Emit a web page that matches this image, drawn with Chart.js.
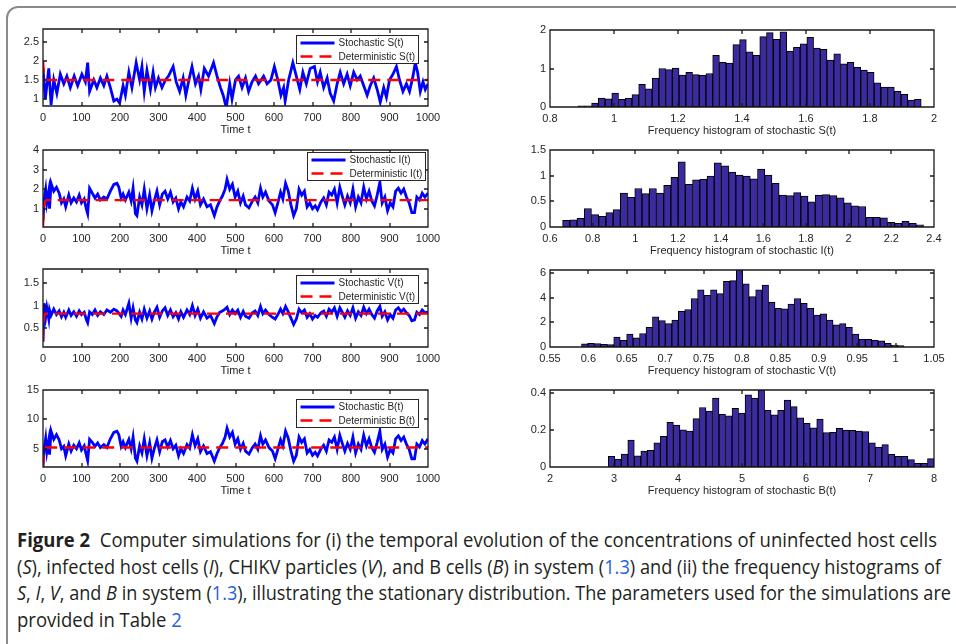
<!DOCTYPE html>
<html>
<head>
<meta charset="utf-8">
<script src="https://cdn.jsdelivr.net/npm/chart.js@4.4.0/dist/chart.umd.min.js"></script>
<style>
  html, body { margin: 0; padding: 0; background: #fff; }
  body { width: 956px; height: 644px; position: relative; overflow: hidden; }
  #frame { position: absolute; left: 6px; top: 6px; width: 1000px; height: 700px; box-sizing: border-box;
           border: 2px solid #8a8a8a; border-radius: 12px; }
  #caption { position: absolute; left: 17px; top: 527px; font-family: 'Open Sans', 'Noto Sans', sans-serif;
             font-size: 20px; line-height: 26.7px; color: #231f20; }
  #caption .ln { white-space: nowrap; width: max-content; transform-origin: 0 50%; }
  #caption a { color: #2a5fd8; text-decoration: none; }
  canvas { position: absolute; }
</style>
</head>
<body>
<div id="frame"></div>
<div id="caption">
  <div class="ln"><b>Figure 2</b>&nbsp; Computer simulations for (i) the temporal evolution of the concentrations of uninfected host cells</div>
  <div class="ln">(<i>S</i>), infected host cells (<i>I</i>), CHIKV particles (<i>V</i>), and B cells (<i>B</i>) in system (<a>1.3</a>) and (ii) the frequency histograms of</div>
  <div class="ln"><i>S</i>, <i>I</i>, <i>V</i>, and <i>B</i> in system (<a>1.3</a>), illustrating the stationary distribution. The parameters used for the simulations are</div>
  <div class="ln">provided in Table <a>2</a></div>
</div>
<script>
// ---- time series ----
var timeS = [0,6,15,21,28,36,45,54,62,71,81,90,101,110,116,121,132,140,149,158,
  166,175,184,192,199,208,214,223,231,242,251,257,263,270,279,286,292,300,309,318,
  326,338,346,355,364,371,379,387,396,404,410,419,430,443,452,461,468,476,485,491,
  500,508,517,526,534,543,552,560,573,582,592,601,610,618,625,629,638,649,658,667,
  675,684,694,705,713,720,729,738,746,755,764,772,781,790,798,807,816,824,833,842,
  850,859,868,876,885,892,900,909,918,926,935,944,952,961,967,973,980,987,993,1000];
var stochS = [1.8,1.0,1.8,0.85,1.5,1.15,1.65,1.4,1.6,1.3,1.6,1.35,1.65,1.45,1.95,1.2,1.5,1.3,1.55,1.35,
  1.6,1.3,0.95,1.0,0.9,1.35,1.1,1.7,1.3,1.95,1.5,1.85,1.2,1.75,1.25,1.7,1.3,1.55,1.3,1.5,
  1.6,1.85,1.45,1.2,1.55,1.1,1.5,1.85,1.4,1.6,1.25,1.8,1.6,1.95,1.6,1.3,1.1,0.78,1.4,1.0,
  1.5,1.6,1.3,1.55,1.2,1.45,1.6,1.4,1.6,1.4,1.5,1.85,1.5,1.1,1.3,0.95,1.5,1.95,1.6,1.25,
  1.7,1.4,1.8,1.85,1.45,1.7,1.3,1.55,1.15,0.95,1.4,1.7,1.4,1.65,1.35,1.7,1.5,1.6,1.35,1.1,
  1.35,1.55,1.25,0.92,1.3,1.05,1.5,1.65,1.85,1.5,1.2,1.4,1.2,1.6,1.95,1.7,1.2,1.45,1.25,1.4];

var timeIVB = [0,3,7,10,15,17,21,28,35,42,48,54,59,67,73,80,87,94,100,107,
  113,116,121,128,135,142,149,158,166,175,184,192,197,203,208,214,223,229,234,240,
  244,251,257,263,270,277,283,289,296,303,310,317,324,331,338,345,352,358,365,374,
  381,388,395,402,409,417,426,435,445,452,459,466,473,478,485,492,499,506,513,520,
  526,535,544,551,558,565,571,578,587,596,603,610,617,623,630,637,644,651,658,665,
  672,679,686,693,700,707,713,722,729,736,743,750,757,764,771,778,784,791,798,805,
  812,819,826,833,840,847,854,861,868,875,881,888,895,902,909,916,923,930,937,944,
  951,958,965,971,978,985,992,1000];
var stochI = [0.4,1.5,2.0,1.3,1.9,1.0,2.3,1.9,2.1,1.8,1.3,1.5,1.1,1.7,1.3,1.55,1.35,1.7,1.3,1.5,
  0.95,0.75,2.05,1.8,1.55,1.75,1.45,1.6,1.5,1.9,2.25,2.3,2.1,1.55,1.75,1.45,1.85,1.4,2.05,0.75,
  0.65,1.6,1.2,2.0,1.0,1.7,0.9,1.4,1.9,1.2,1.75,1.9,1.5,1.85,1.35,1.55,1.0,1.35,1.1,1.6,
  1.4,2.05,1.5,1.9,1.2,1.5,1.1,1.2,0.65,1.1,1.4,1.65,2.0,2.5,2.0,2.25,1.6,1.9,1.3,1.65,
  1.2,1.05,1.4,1.6,1.3,2.05,1.6,1.85,1.4,1.2,0.8,1.3,1.85,1.5,2.3,1.9,1.2,0.65,1.0,2.0,
  1.7,1.9,1.1,1.3,1.0,1.15,0.95,1.35,1.55,1.2,1.85,1.7,2.0,1.3,2.1,1.6,1.2,1.65,1.3,2.0,
  1.1,1.6,1.3,2.1,1.5,1.9,1.4,1.15,1.7,2.35,1.3,1.6,0.9,1.3,1.1,1.9,2.05,1.8,2.0,1.6,
  1.3,0.8,0.8,1.6,1.45,1.8,1.6,1.8];
var stochV = [0.2,1.05,0.75,0.95,0.7,0.9,0.78,0.92,0.8,0.88,0.75,0.85,0.74,0.9,0.78,0.86,0.76,0.88,0.8,0.85,
  0.68,0.62,0.86,0.8,0.9,0.78,0.86,0.8,0.9,0.85,0.92,0.88,0.83,0.76,0.9,0.8,1.05,0.72,0.95,0.68,
  0.62,0.85,0.7,0.92,0.72,0.88,0.7,0.85,0.96,0.74,0.88,0.95,0.78,0.9,0.75,0.84,0.7,0.86,0.74,0.9,
  0.8,1.0,0.78,0.92,0.72,0.86,0.72,0.78,0.6,0.75,0.85,0.88,0.92,0.96,0.8,0.9,0.82,0.9,0.74,0.87,
  0.76,0.72,0.84,0.88,0.78,0.98,0.82,0.9,0.8,0.74,0.7,0.8,0.92,0.82,0.98,0.86,0.72,0.58,0.7,0.92,
  0.84,0.9,0.74,0.82,0.7,0.78,0.74,0.84,0.88,0.76,0.92,0.85,0.95,0.76,0.95,0.84,0.74,0.88,0.78,0.95,
  0.72,0.86,0.78,0.96,0.82,0.92,0.8,0.72,0.88,0.98,0.76,0.86,0.68,0.8,0.72,0.9,0.95,0.86,0.92,0.84,
  0.78,0.66,0.68,0.85,0.8,0.9,0.84,0.86];
var stochB = [2.0,5.0,6.8,4.5,6.5,4.0,8.0,6.6,7.4,6.5,5.0,5.4,3.8,5.8,4.6,5.6,5.0,6.0,4.8,5.5,
  3.8,3.0,6.6,6.1,5.4,6.0,5.2,5.7,5.2,6.7,7.8,8.0,7.4,5.4,6.2,5.2,6.6,5.0,7.0,3.4,
  2.9,5.5,4.3,6.7,3.8,6.0,3.4,5.0,6.5,4.5,6.2,6.5,5.3,6.4,5.0,5.6,3.8,5.0,4.2,5.7,
  5.1,7.4,5.5,6.7,4.5,5.5,4.2,4.5,2.9,4.2,5.2,5.9,7.0,8.5,7.0,7.8,5.8,6.7,4.9,5.9,
  4.6,4.1,5.2,5.8,4.9,7.2,5.8,6.5,5.2,4.6,3.3,4.9,6.5,5.5,8.0,6.8,4.6,2.9,3.9,7.0,
  6.1,6.7,4.3,4.9,3.9,4.4,3.8,5.0,5.6,4.6,6.5,6.1,7.0,4.9,7.3,5.8,4.6,5.9,4.9,7.0,
  4.3,5.8,4.9,7.3,5.5,6.7,5.2,4.4,6.1,8.0,4.9,5.8,3.6,4.9,4.3,6.7,7.2,6.4,7.0,5.8,
  4.9,3.3,3.3,5.8,5.3,6.4,5.8,6.7];

// deterministic solutions
var timeDet = [0,1,2,3,4,6,10,1000];
var detS = [2.0,1.85,1.72,1.62,1.56,1.51,1.5,1.5];
var detI = [0.1,0.5,0.85,1.1,1.25,1.38,1.44,1.44];
var detV = [0.2,0.5,0.68,0.76,0.8,0.82,0.82,0.82];
var detB = [2.0,3.3,4.2,4.7,5.0,5.2,5.23,5.23];

// ---- histograms (bin range + bar heights) ----
var histSRange = [0.888, 1.96];
var histS = [0.03,0.03,0.1,0.23,0.21,0.36,0.2,0.23,0.32,0.59,0.47,0.75,1.0,0.97,1.01,0.83,0.9,0.84,0.82,0.87,
  1.34,1.16,1.14,1.62,1.75,1.43,1.34,1.83,1.93,1.76,1.95,1.45,1.55,1.64,1.81,1.53,1.5,1.22,1.38,1.12,
  1.16,1.03,0.96,0.9,0.63,0.52,0.52,0.41,0.33,0.18,0.2];
var histIRange = [0.659, 2.351];
var histI = [0.13,0.14,0.17,0.36,0.24,0.21,0.28,0.34,0.66,0.58,0.75,0.65,0.75,0.66,0.81,0.97,1.27,0.83,0.92,0.93,
  0.99,1.25,1.19,1.07,1.01,0.99,0.94,1.13,1.01,0.85,0.62,0.61,0.67,0.6,0.49,0.62,0.63,0.61,0.57,0.47,
  0.41,0.4,0.19,0.19,0.18,0.09,0.07,0.11,0.07,0.04];
var histVRange = [0.591, 1.011];
var histV = [0.25,0.3,0.28,0.22,0.2,0.8,0.55,1.05,0.75,1.1,1.6,2.45,2.15,1.9,2.2,2.9,3.05,3.95,4.65,4.2,
  4.65,4.35,5.35,5.4,6.3,5.15,4.1,4.65,5.05,3.65,3.15,3.1,3.5,3.95,3.55,3.15,2.6,2.7,2.2,1.8,
  1.9,1.6,1.05,0.65,0.62,0.55,0.5,0.3,0.15,0.12];
var histBRange = [2.91, 8.0];
var histB = [0.057,0.043,0.07,0.145,0.06,0.085,0.09,0.13,0.165,0.24,0.225,0.2,0.193,0.26,0.32,0.3,0.37,0.283,0.275,0.315,
  0.29,0.388,0.37,0.414,0.305,0.28,0.305,0.36,0.325,0.265,0.235,0.21,0.258,0.185,0.187,0.208,0.198,0.197,0.193,0.19,
  0.13,0.107,0.12,0.068,0.058,0.057,0.04,0.02,0.02,0.045];

// ---- tick labels ----
var timeTicks = [0,100,200,300,400,500,600,700,800,900,1000];
var yTicksS = [1,1.5,2,2.5];
var yTicksI = [1,2,3,4];
var yTicksV = [0.5,1,1.5];
var yTicksB = [5,10,15];
var hxTicksS = [0.8,1,1.2,1.4,1.6,1.8,2];
var hxTicksI = [0.6,0.8,1,1.2,1.4,1.6,1.8,2,2.2,2.4];
var hxTicksV = [0.55,0.6,0.65,0.7,0.75,0.8,0.85,0.9,0.95,1,1.05];
var hxTicksB = [2,3,4,5,6,7,8];
var hyTicksS = [0,1,2];
var hyTicksI = [0,0.5,1,1.5];
var hyTicksV = [0,2,4,6];
var hyTicksB = [0,0.2,0.4];

var FONT = "'Liberation Sans', Arial, Helvetica, sans-serif";
var INK = '#262626';
var PAD = 20, YW = 40, XH = 31;

Chart.defaults.font.family = FONT;
Chart.defaults.color = INK;

function makeCanvas(r) {
    var c = document.createElement('canvas');
    var w = r.w + YW + 2 * PAD, h = r.h + XH + 2 * PAD;
    c.width = w; c.height = h;
    c.style.left = (r.l - YW - PAD) + 'px';
    c.style.top = (r.t - PAD) + 'px';
    c.style.width = w + 'px';
    c.style.height = h + 'px';
    document.body.appendChild(c);
    return c;
}

// matlab style box with inward ticks, drawn on top of the bars and lines
var boxPlugin = {
    id: 'matBox',
    afterDatasetsDraw: function (chart) {
        var ctx = chart.ctx, a = chart.chartArea, sx = chart.scales.x, sy = chart.scales.y;
        var L = Math.round(a.left), R = Math.round(a.right);
        var T = Math.round(a.top), B = Math.round(a.bottom);
        var tl = 4;
        ctx.save();
        ctx.setLineDash([]);
        ctx.strokeStyle = '#1a1a1a';
        ctx.lineWidth = 1.3;
        ctx.beginPath();
        ctx.moveTo(L, T); ctx.lineTo(R, T); ctx.lineTo(R, B); ctx.lineTo(L, B); ctx.closePath();
        sx.ticks.forEach(function (t) {
            var p = Math.round(sx.getPixelForValue(t.value));
            ctx.moveTo(p, B); ctx.lineTo(p, B - tl);
            ctx.moveTo(p, T); ctx.lineTo(p, T + tl);
        });
        sy.ticks.forEach(function (t) {
            var p = Math.round(sy.getPixelForValue(t.value));
            ctx.moveTo(L, p); ctx.lineTo(L + tl, p);
            ctx.moveTo(R, p); ctx.lineTo(R - tl, p);
        });
        ctx.stroke();
        ctx.restore();
    }
};

// legend box in the upper right, like matlab's 'NorthEast'
function legendPlugin(leg) {
    return {
        id: 'matLegend',
        afterDraw: function (chart) {
            var ctx = chart.ctx, a = chart.chartArea;
            var ds = chart.data.datasets;
            ctx.save();
            ctx.font = '10px ' + FONT;
            var tw = Math.max.apply(null, ds.map(function (d) { return ctx.measureText(d.label).width; }));
            var w = Math.round(42 + tw + 3), h = 28;
            var x0 = Math.round(a.right - leg.right - w) + 0.5, y0 = Math.round(a.top + leg.top) + 0.5;
            ctx.fillStyle = '#fff';
            ctx.fillRect(x0, y0, w, h);
            ctx.strokeStyle = INK;
            ctx.lineWidth = 1;
            ctx.strokeRect(x0, y0, w, h);
            ds.forEach(function (d, i) {
                var y = y0 + 7.5 + i * 13.5;
                ctx.save();
                ctx.strokeStyle = d.borderColor;
                ctx.lineWidth = d.borderWidth;
                ctx.setLineDash(d.borderDash || []);
                ctx.beginPath();
                ctx.moveTo(x0 + 4, y); ctx.lineTo(x0 + 38, y);
                ctx.stroke();
                ctx.restore();
                ctx.fillStyle = INK;
                ctx.textBaseline = 'middle';
                ctx.fillText(d.label, x0 + 42, y + 0.5);
            });
            ctx.restore();
        }
    };
}

function axis(min, max, ticks, horiz, title) {
    var o = {
        type: 'linear', min: min, max: max, offset: false,
        grid: { display: false, drawTicks: false, tickLength: 0 }, border: { display: false },
        afterBuildTicks: function (s) { s.ticks = ticks.map(function (v) { return { value: v }; }); },
        ticks: { color: INK, font: { size: 11 }, padding: horiz ? 5 : 4, maxRotation: 0, autoSkip: false,
                 callback: function (v) { return String(v); } }
    };
    if (horiz) {
        o.afterFit = function (s) { s.height = XH; };
        o.title = { display: true, text: title, color: INK, font: { size: 11 }, padding: 0 };
    } else {
        o.afterFit = function (s) { s.width = YW; };
    }
    return o;
}

function pts(xs, ys) {
    return xs.map(function (x, i) { return { x: x, y: ys[i] }; });
}

function lineChart(r, name, t, stoch, det, yMin, yMax, yTicks, leg) {
    new Chart(makeCanvas(r), {
        type: 'line',
        data: {
            datasets: [{
                label: 'Stochastic ' + name + '(t)',
                data: pts(t, stoch),
                borderColor: '#0000ff', borderWidth: 2.8, pointRadius: 0, tension: 0, order: 1
            }, {
                label: 'Deterministic ' + name + '(t)',
                data: pts(timeDet, det),
                borderColor: '#ff0000', borderWidth: 2.4, borderDash: [12, 7], pointRadius: 0, tension: 0, order: 0
            }]
        },
        options: {
            responsive: false, animation: false, devicePixelRatio: 1,
            layout: { padding: PAD },
            plugins: { legend: { display: false }, tooltip: { enabled: false } },
            scales: {
                x: axis(0, 1000, timeTicks, true, 'Time t'),
                y: axis(yMin, yMax, yTicks, false)
            }
        },
        plugins: [boxPlugin, legendPlugin(leg)]
    });
}

function histChart(r, name, range, heights, xMin, xMax, xTicks, yMax, yTicks) {
    var bw = (range[1] - range[0]) / heights.length;
    var centers = heights.map(function (h, i) { return range[0] + bw * (i + 0.5); });
    new Chart(makeCanvas(r), {
        type: 'bar',
        data: {
            datasets: [{
                data: pts(centers, heights),
                backgroundColor: '#3b2ba0', borderColor: '#000', borderWidth: 1, borderSkipped: false,
                barPercentage: 1, categoryPercentage: 1
            }]
        },
        options: {
            responsive: false, animation: false, devicePixelRatio: 1,
            layout: { padding: PAD },
            plugins: { legend: { display: false }, tooltip: { enabled: false } },
            scales: {
                x: axis(xMin, xMax, xTicks, true, 'Frequency histogram of stochastic ' + name + '(t)'),
                y: axis(0, yMax, yTicks, false)
            }
        },
        plugins: [boxPlugin]
    });
}

lineChart({ l: 43, t: 29, w: 385, h: 77 }, 'S', timeS, stochS, detS, 0.82, 2.83, yTicksS, { right: 10, top: 6 });
lineChart({ l: 43, t: 150, w: 385, h: 77 }, 'I', timeIVB, stochI, detI, 0.07, 4, yTicksI, { right: 3, top: 2 });
lineChart({ l: 43, t: 269, w: 385, h: 78 }, 'V', timeIVB, stochV, detV, 0.08, 1.81, yTicksV, { right: 10, top: 6 });
lineChart({ l: 43, t: 390, w: 385, h: 77 }, 'B', timeIVB, stochB, detB, 1.9, 15, yTicksB, { right: 10, top: 9 });

histChart({ l: 550, t: 30, w: 384, h: 77 }, 'S', histSRange, histS, 0.8, 2, hxTicksS, 2, hyTicksS);
histChart({ l: 550, t: 150, w: 384, h: 77 }, 'I', histIRange, histI, 0.6, 2.4, hxTicksI, 1.5, hyTicksI);
histChart({ l: 550, t: 270, w: 384, h: 77 }, 'V', histVRange, histV, 0.55, 1.05, hxTicksV, 6.27, hyTicksV);
histChart({ l: 550, t: 390, w: 384, h: 77 }, 'B', histBRange, histB, 2, 8, hxTicksB, 0.414, hyTicksB);

// squeeze caption lines to the widths of the original typesetting
var captionWidths = [920, 924, 934];
function fitCaption() {
    var lines = document.querySelectorAll('#caption .ln');
    var k0 = 1;
    lines.forEach(function (el, i) {
        el.style.transform = 'none';
        var k = captionWidths[i] ? captionWidths[i] / el.getBoundingClientRect().width : k0;
        if (i === 0) k0 = k;
        el.style.transform = 'scaleX(' + k + ')';
    });
}
fitCaption();
if (document.fonts) document.fonts.ready.then(fitCaption);
</script>
</body>
</html>
